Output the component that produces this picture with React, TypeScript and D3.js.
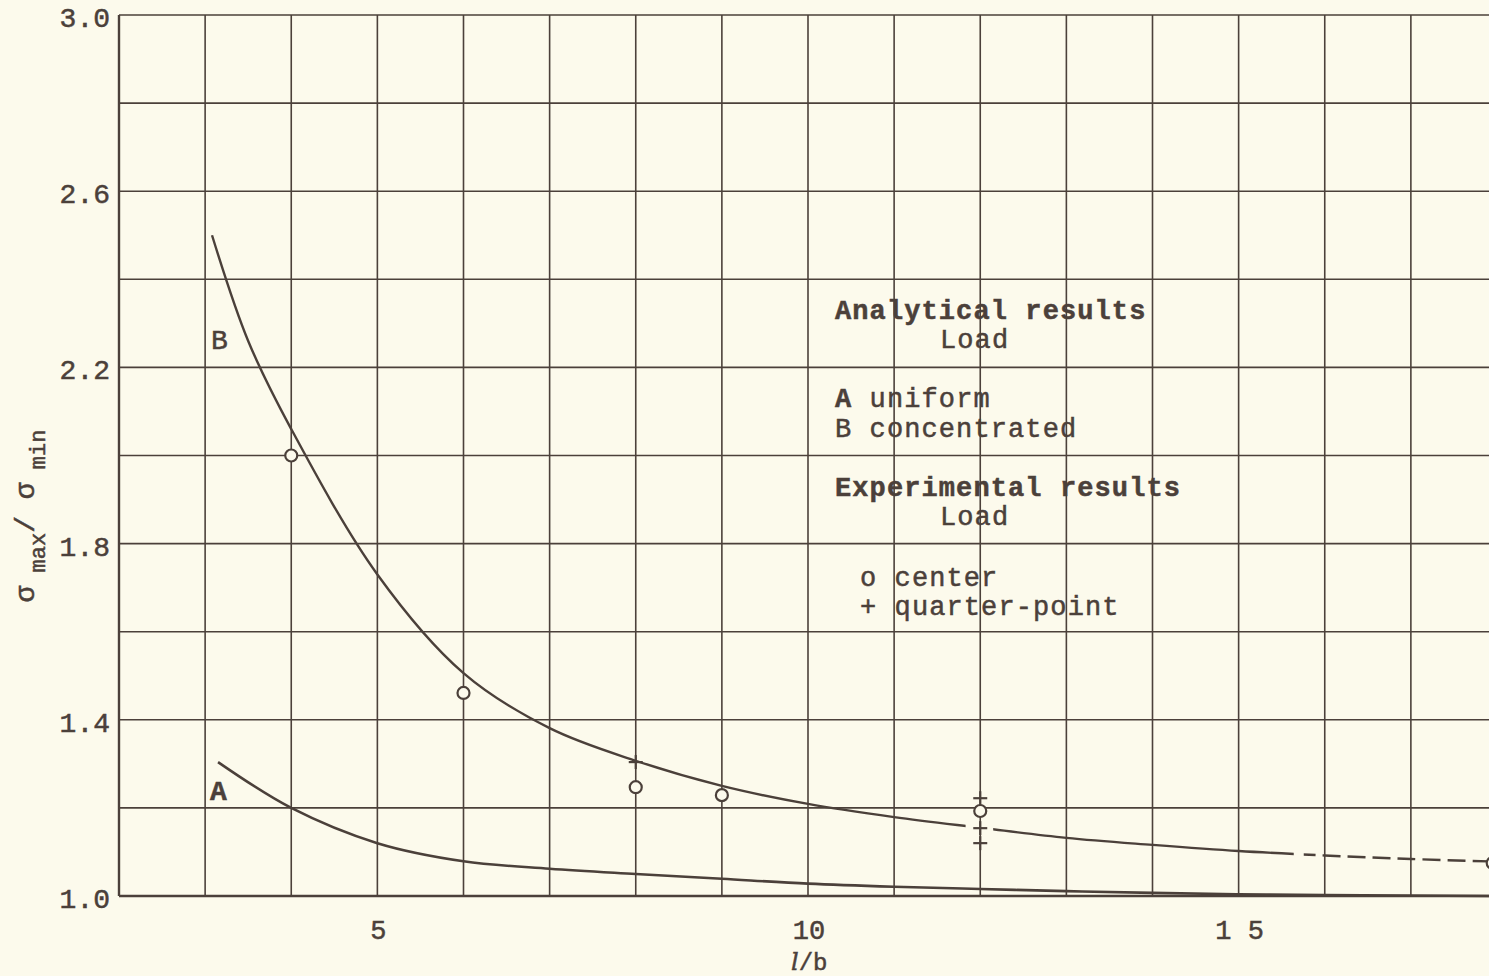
import React from 'react';
import * as d3 from 'd3';

// axis extents and ticks
const xDomain = [2, 18];
const yDomain = [1, 3];
const xTickValues = [5, 10, 15];
const xTickLabels = ['5', '10', '1 5'];
const yTickValues = [1.0, 1.4, 1.8, 2.2, 2.6, 3.0];

// analytical curve A (uniform load)
const curveAX = [3.15, 4, 5, 6, 7, 8, 9, 10, 11, 12, 13, 14, 15, 16, 18];
const curveAY = [1.304, 1.2, 1.12, 1.079, 1.062, 1.05, 1.039, 1.028, 1.021, 1.016, 1.011, 1.007, 1.004, 1.002, 1.0];

// analytical curve B (concentrated load)
const curveBX = [3.08, 3.5, 4, 5, 6, 7, 8, 9, 10, 11, 12, 13, 14, 15, 16, 17, 18];
const curveBY = [2.5, 2.26, 2.06, 1.73, 1.506, 1.381, 1.307, 1.25, 1.209, 1.179, 1.155, 1.132, 1.116, 1.102, 1.092, 1.084, 1.078];
const curveBGap = [11.83, 12.15];
const curveBDashFrom = 15.64;

// experimental results
const centerX = [4, 6, 8, 9, 12, 17.95];
const centerY = [2.0, 1.461, 1.247, 1.229, 1.193, 1.075];
const quarterX = [8, 12, 12, 12];
const quarterY = [1.304, 1.222, 1.154, 1.12];

const W = 1489;
const H = 976;
const ink = '#4b403a';
const paper = '#fcfaec';
const mono = '"Liberation Mono", "DejaVu Sans Mono", monospace';

export default function App() {
  const x = d3.scaleLinear().domain(xDomain).range([119, 1497]);
  const y = d3.scaleLinear().domain(yDomain).range([896, 15]);

  const line = d3.line<[number, number]>()
    .x(d => x(d[0]))
    .y(d => y(d[1]))
    .curve(d3.curveCatmullRom.alpha(0.5));

  const pathA = line(curveAX.map((v, i) => [v, curveAY[i]]) as [number, number][]) || '';
  const pathB = line(curveBX.map((v, i) => [v, curveBY[i]]) as [number, number][]) || '';

  const xGrid = x.ticks(16);
  const yGrid = y.ticks(10);

  const textStyle = { fontFamily: mono, fill: ink, stroke: ink, strokeWidth: 0.5 };

  return (
    <svg width={W} height={H} style={{ position: 'absolute', left: 0, top: 0, background: paper }}>
      <rect x={0} y={0} width={W} height={H} fill={paper} />
      <defs>
        <clipPath id="solidB1">
          <rect x={0} y={0} width={x(curveBGap[0])} height={H} />
        </clipPath>
        <clipPath id="solidB2">
          <rect x={x(curveBGap[1])} y={0} width={x(curveBDashFrom) - x(curveBGap[1])} height={H} />
        </clipPath>
        <clipPath id="dashB">
          <rect x={x(curveBDashFrom) + 10} y={0} width={W} height={H} />
        </clipPath>
      </defs>

      {/* grid */}
      <g stroke={ink} strokeWidth={1.6}>
        {xGrid.map(v => (
          <line key={'gx' + v} x1={x(v)} x2={x(v)} y1={y(3)} y2={y(1)} />
        ))}
        {yGrid.map(v => (
          <line key={'gy' + v} x1={x(2)} x2={x(18)} y1={y(v)} y2={y(v)} />
        ))}
      </g>
      <line x1={x(2)} x2={x(2)} y1={y(3)} y2={y(1)} stroke={ink} strokeWidth={2.4} />
      <line x1={x(2)} x2={x(18)} y1={y(1)} y2={y(1)} stroke={ink} strokeWidth={2.6} />

      {/* curves */}
      <path d={pathA} fill="none" stroke={ink} strokeWidth={2.6} />
      <path d={pathB} fill="none" stroke={ink} strokeWidth={2.4} clipPath="url(#solidB1)" />
      <path d={pathB} fill="none" stroke={ink} strokeWidth={2.4} clipPath="url(#solidB2)" />
      <path d={pathB} fill="none" stroke={ink} strokeWidth={2.4} strokeDasharray="18 7" clipPath="url(#dashB)" />

      {/* experimental points */}
      {centerX.map((v, i) => (
        <circle key={'c' + i} cx={x(v)} cy={y(centerY[i])} r={6} fill={paper} stroke={ink} strokeWidth={2.2} />
      ))}
      {quarterX.map((v, i) => (
        <g key={'q' + i} stroke={ink} strokeWidth={2.2}>
          <line x1={x(v) - 7} x2={x(v) + 7} y1={y(quarterY[i])} y2={y(quarterY[i])} />
          <line x1={x(v)} x2={x(v)} y1={y(quarterY[i]) - 7} y2={y(quarterY[i]) + 7} />
        </g>
      ))}

      {/* tick labels */}
      {yTickValues.map(v => (
        <text key={'yt' + v} x={110} y={y(v) + 12} textAnchor="end" fontSize={28} style={textStyle}>
          {v.toFixed(1)}
        </text>
      ))}
      {xTickValues.map((v, i) => (
        <text key={'xt' + v} x={x(v) + 1} y={939} textAnchor="middle" fontSize={27} style={textStyle}>
          {xTickLabels[i]}
        </text>
      ))}

      {/* axis titles */}
      <text x={791} y={970} fontSize={24} style={textStyle}>
        <tspan fontStyle="italic" fontFamily="'DejaVu Serif', serif">l</tspan>
        <tspan>/b</tspan>
      </text>
      <text transform="translate(34,516) rotate(-90)" textAnchor="middle" fontSize={28} style={textStyle}>
        <tspan>σ</tspan>
        <tspan fontSize={22} dy={11}> max</tspan>
        <tspan dy={-11}>/ σ</tspan>
        <tspan fontSize={22} dy={11}> min</tspan>
      </text>

      {/* curve labels */}
      <text x={211} y={349} fontSize={28} style={textStyle}>B</text>
      <text x={210} y={800} fontSize={28} fontWeight="bold" style={textStyle}>A</text>

      {/* legend */}
      <g fontSize={27} letterSpacing={1.1} style={textStyle}>
        <text x={835} y={319} fontWeight="bold">Analytical results</text>
        <text x={940} y={348}>Load</text>
        <text x={835} y={407}>
          <tspan fontWeight="bold">A</tspan> uniform
        </text>
        <text x={835} y={437}>B concentrated</text>
        <text x={835} y={496} fontWeight="bold">Experimental results</text>
        <text x={940} y={525}>Load</text>
        <text x={860} y={586}>o center</text>
        <text x={860} y={615}>+ quarter-point</text>
      </g>
    </svg>
  );
}
